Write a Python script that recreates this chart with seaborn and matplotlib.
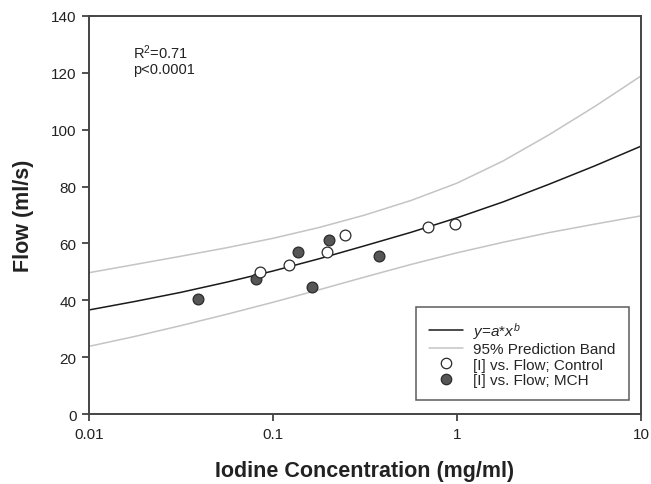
import seaborn as sns
import pandas as pd
import matplotlib.pyplot as plt
from matplotlib.lines import Line2D

# measured points, iodine concentration (mg/ml) vs flow (ml/s)
control_iodine = [0.085, 0.122, 0.196, 0.246, 0.694, 0.975]
control_flow = [50.1, 52.5, 57.1, 63.0, 65.8, 66.9]
mch_iodine = [0.039, 0.081, 0.136, 0.162, 0.202, 0.377]
mch_flow = [40.6, 47.4, 56.9, 44.6, 61.3, 55.7]

# fitted curve and prediction band at quarter decades
curve_x = [0.01, 0.0178, 0.0316, 0.0562, 0.1, 0.178, 0.316, 0.562,
           1.0, 1.78, 3.16, 5.62, 10]
fit_y = [36.6, 39.6, 42.8, 46.4, 50.3, 54.6, 59.2, 63.9, 69.0, 74.6, 80.8, 87.3, 94.2]
upper_y = [49.7, 52.6, 55.5, 58.5, 61.8, 65.6, 70.0, 75.1, 81.2, 89.0, 98.2, 108.2, 118.9]
lower_y = [23.8, 27.3, 31.1, 35.1, 39.3, 43.7, 48.2, 52.6, 56.7, 60.4, 63.8, 66.8, 69.7]

x_ticks = [0.01, 0.1, 1, 10]
x_tick_labels = ['0.01', '0.1', '1', '10']
y_ticks = [0, 20, 40, 60, 80, 100, 120, 140]

curves = pd.DataFrame({'x': curve_x, 'fit': fit_y, 'upper': upper_y, 'lower': lower_y})

sns.set_style('ticks')
plt.rcParams['font.family'] = ['Liberation Sans', 'DejaVu Sans']
plt.rcParams['mathtext.fontset'] = 'custom'
plt.rcParams['mathtext.rm'] = 'Liberation Sans'
plt.rcParams['mathtext.it'] = 'Liberation Sans:italic'

fig = plt.figure(figsize=(6.51, 4.85), dpi=100)
ax = fig.add_axes([0.1367, 0.1443, 0.8479, 0.8207])
ax.set_xscale('log')

band_color = '#c4c4c4'
sns.lineplot(data=curves, x='x', y='upper', color=band_color, lw=1.1, ax=ax)
sns.lineplot(data=curves, x='x', y='lower', color=band_color, lw=1.1, ax=ax)
sns.lineplot(data=curves, x='x', y='fit', color='#1a1a1a', lw=1.1, ax=ax)

sns.scatterplot(x=mch_iodine, y=mch_flow, s=60, color='#565656',
                edgecolor='#2a2a2a', linewidth=0.9, ax=ax, zorder=3)
sns.scatterplot(x=control_iodine, y=control_flow, s=60, color='white',
                edgecolor='#2a2a2a', linewidth=0.9, ax=ax, zorder=3)

ax.set_xlim(0.01, 10)
ax.set_ylim(0, 140)
ax.set_xticks(x_ticks)
ax.set_xticklabels(x_tick_labels)
ax.minorticks_off()
ax.set_yticks(y_ticks)
ax.tick_params(direction='out', length=5, width=1.2, color='#333333',
               labelsize=11, pad=4, labelcolor='#222222')
for sp in ax.spines.values():
    sp.set_color('#444444')
    sp.set_linewidth(1.4)

ax.set_xlabel('Iodine Concentration (mg/ml)', fontsize=15.5, fontweight='bold',
              color='#222222', labelpad=14)
ax.set_ylabel('Flow (ml/s)', fontsize=15.5, fontweight='bold', color='#222222',
              labelpad=12)

ax.text(0.08, 0.933, 'R$^2$=0.71\np<0.0001', transform=ax.transAxes,
        fontsize=10.5, va='top', ha='left', color='#222222', linespacing=1.05)

handles = [
    Line2D([], [], color='#1a1a1a', lw=1.1),
    Line2D([], [], color=band_color, lw=1.1),
    Line2D([], [], ls='none', marker='o', markersize=7.5, markerfacecolor='white',
           markeredgecolor='#2a2a2a', markeredgewidth=0.9),
    Line2D([], [], ls='none', marker='o', markersize=7.5, markerfacecolor='#565656',
           markeredgecolor='#2a2a2a', markeredgewidth=0.9),
]
labels = ['$y$=$a$*$x^b$', '95% Prediction Band', '[I] vs. Flow; Control',
          '[I] vs. Flow; MCH']
leg = ax.legend(handles, labels, loc='lower right', bbox_to_anchor=(0.978, 0.035),
                borderaxespad=0, fontsize=11, frameon=True, fancybox=False,
                borderpad=0.85, handlelength=2.2, handletextpad=0.7,
                labelspacing=0.1)
leg.get_frame().set_edgecolor('#333333')
leg.get_frame().set_linewidth(1.1)

fig.savefig('out.png', dpi=100)
